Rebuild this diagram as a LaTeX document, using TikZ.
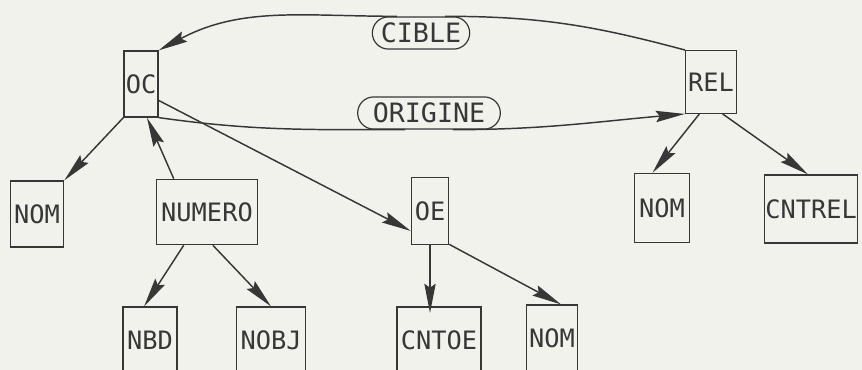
\documentclass[tikz,border=0pt]{standalone}
\usepackage{fontspec}
\setmonofont{DejaVu Sans Mono}
\usepackage{tikz}
\usetikzlibrary{arrows.meta,shapes.misc}

\definecolor{paper}{RGB}{242,242,237}
\definecolor{ink}{RGB}{55,55,55}

\begin{document}
\begin{tikzpicture}[x=0.75pt,y=0.75pt,yscale=-1,xscale=1,
  box/.style={draw=ink,text=ink,line width=0.9pt,inner sep=0.75pt,minimum height=49.5pt,font=\ttfamily\fontsize{19}{19}\selectfont},
  tag/.style={draw=ink,text=ink,rounded rectangle,line width=0.9pt,inner xsep=0pt,inner ysep=4.5pt,font=\ttfamily\fontsize{20}{20}\selectfont},
  arr/.style={draw=ink,line width=1.1pt,-{Stealth[length=22pt,width=8.5pt,inset=3pt]}},
  lnk/.style={draw=ink,line width=1.1pt}]
%set diagram to the size of the page
\useasboundingbox (0,0) rectangle (862,370);
\fill [paper] (0,0) rectangle (862,370);
\clip (0,0) rectangle (862,370);

% Boxes, top row
\node [box, minimum width=25.5pt] (oc) at (141,84) {OC};
\node [box, minimum width=38pt, minimum height=47pt] (rel) at (711,82) {REL};
% Labels
\node [tag, minimum width=73pt] (cible) at (421,33) {CIBLE};
\node [tag, minimum width=107pt] (origine) at (429,113) {ORIGINE};
% Boxes, middle row
\node [box, minimum width=40pt] (nom) at (37,214) {NOM};
\node [box, minimum width=76pt, minimum height=49pt] (numero) at (207,212) {NUMERO};
\node [box, minimum width=28pt, minimum height=50pt] (oe) at (430,211) {OE};
\node [box, minimum width=41pt, minimum height=52pt] (nomrel) at (662,208) {NOM};
\node [box, minimum width=70pt, minimum height=51pt] (cntrel) at (811,209) {CNTREL};
% Boxes, bottom row
\node [box, minimum width=40.5pt] (nbd) at (150,340) {NBD};
\node [box, minimum width=52pt] (nobj) at (271,340) {NOBJ};
\node [box, minimum width=63pt] (cntoe) at (439,340) {CNTOE};
\node [box, minimum width=38pt] (nomoe) at (552,338) {NOM};

% CIBLE (angles flipped by yscale=-1)
\draw [lnk] (rel.north west) to[out=195,in=0] (cible.35);
\draw [arr] (cible.145) to[out=180,in=-28] (oc.north east);
% ORIGINE
\draw [lnk] (oc.south east) to[out=8,in=180] (origine.215);
\draw [arr] (origine.-35) to[out=0,in=175] (rel.south west);

% Tree arrows
\draw [arr] (oc.south west) -- (nom.north east);
\draw [arr] (numero.135) -- (oc.-80);
\draw [arr] (oc.-43) -- (oe.-134);
\draw [arr] (numero.-125) -- (nbd.100);
\draw [arr] (numero.-80) -- (nobj.north);
\draw [arr] (oe.south) -- ([yshift=5pt]oe.south |- cntoe.north);
\draw [arr] (oe.-60) -- (nomoe.75);
\draw [arr] (rel.-110) -- (nomrel.105);
\draw [arr] (rel.-70) -- (cntrel.95);

\end{tikzpicture}
\end{document}
